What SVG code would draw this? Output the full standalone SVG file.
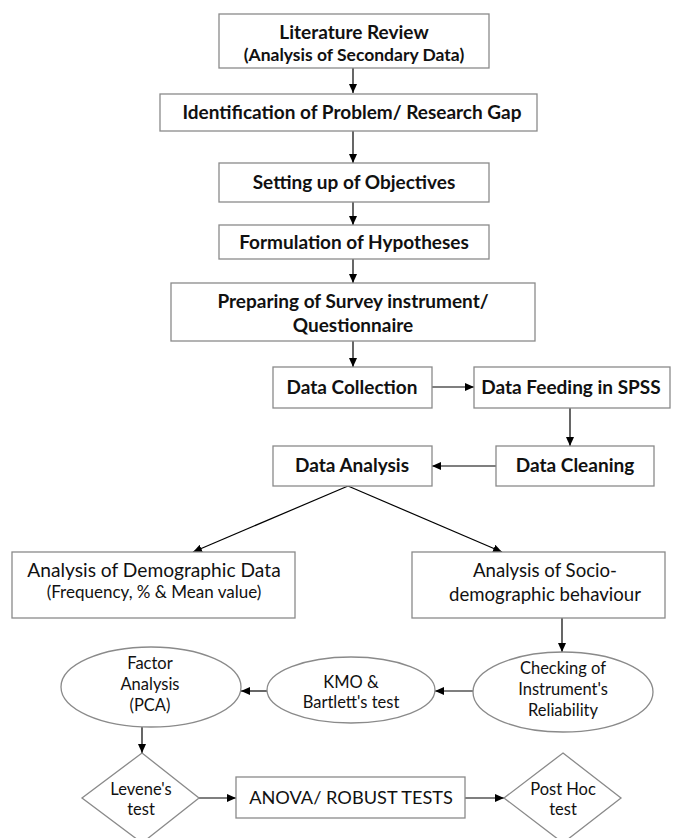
<svg xmlns="http://www.w3.org/2000/svg" width="675" height="838" viewBox="0 0 675 838">
<defs>
<marker id="ah" markerWidth="9" markerHeight="8" refX="9" refY="4" orient="auto" markerUnits="userSpaceOnUse">
<path d="M0,0 L9,4 L0,8 Z" fill="#000"/>
</marker>
<style>
.box{fill:#fff;stroke:#8a8a8a;stroke-width:1.3}
.t{font-family:Lato,"Liberation Sans",sans-serif;font-size:19px;fill:#111;text-anchor:middle}
.b{font-weight:bold}
.e{font-size:16.5px}
.c{stroke:#000;stroke-width:1.2;fill:none;marker-end:url(#ah)}
</style>
</defs>
<rect width="675" height="838" fill="#fff"/>
<g id="connectors">
<line class="c" x1="353" y1="68" x2="353" y2="93"/>
<line class="c" x1="353" y1="131" x2="353" y2="163"/>
<line class="c" x1="353" y1="202" x2="353" y2="225"/>
<line class="c" x1="353" y1="259" x2="353" y2="283"/>
<line class="c" x1="353" y1="341" x2="353" y2="367"/>
<line class="c" x1="432" y1="387" x2="474" y2="387"/>
<line class="c" x1="570" y1="408" x2="570" y2="446"/>
<line class="c" x1="496" y1="466" x2="432" y2="466"/>
<line class="c" x1="348" y1="486" x2="193" y2="552"/>
<line class="c" x1="348" y1="486" x2="502" y2="552"/>
<line class="c" x1="562" y1="618" x2="562" y2="652"/>
<line class="c" x1="473" y1="691" x2="435" y2="691"/>
<line class="c" x1="267" y1="691" x2="241" y2="691"/>
<line class="c" x1="142" y1="727" x2="142" y2="753"/>
<line class="c" x1="199" y1="798" x2="236" y2="798"/>
<line class="c" x1="465" y1="798" x2="504" y2="798"/>
</g>
<g id="literature">
<rect class="box" x="219" y="14" width="270" height="54"/>
<text class="t b" x="354" y="39">Literature Review</text>
<text class="t b" x="354" y="61" style="font-size:17.5px">(Analysis of Secondary Data)</text>
</g>
<g id="identification">
<rect class="box" x="160" y="94" width="377" height="37"/>
<text class="t b" x="352" y="119">Identification of Problem/ Research Gap</text>
</g>
<g id="objectives">
<rect class="box" x="219" y="163" width="270" height="39"/>
<text class="t b" x="354" y="189">Setting up of Objectives</text>
</g>
<g id="hypotheses">
<rect class="box" x="219" y="225" width="270" height="34"/>
<text class="t b" x="354" y="249">Formulation of Hypotheses</text>
</g>
<g id="survey">
<rect class="box" x="171" y="283" width="364" height="58"/>
<text class="t b" x="353" y="308">Preparing of Survey instrument/</text>
<text class="t b" x="353" y="332">Questionnaire</text>
</g>
<g id="collection">
<rect class="box" x="273" y="367" width="159" height="41"/>
<text class="t b" x="352" y="394">Data Collection</text>
</g>
<g id="feeding">
<rect class="box" x="474" y="367" width="196" height="41"/>
<text class="t b" x="571" y="394">Data Feeding in SPSS</text>
</g>
<g id="cleaning">
<rect class="box" x="496" y="446" width="158" height="40"/>
<text class="t b" x="575" y="472">Data Cleaning</text>
</g>
<g id="analysis">
<rect class="box" x="273" y="446" width="159" height="40"/>
<text class="t b" x="352" y="472">Data Analysis</text>
</g>
<g id="demographic">
<rect class="box" x="12" y="552" width="283" height="66"/>
<text class="t" x="154" y="577" style="font-size:19.2px">Analysis of Demographic Data</text>
<text class="t" x="154" y="598" style="font-size:17px">(Frequency, % &amp; Mean value)</text>
</g>
<g id="socio">
<rect class="box" x="412" y="552" width="253" height="66"/>
<text class="t" x="545" y="577" style="font-size:18.6px">Analysis of Socio-</text>
<text class="t" x="545" y="601" style="font-size:18.6px">demographic behaviour</text>
</g>
<g id="checking">
<ellipse class="box" cx="563" cy="692" rx="90" ry="40"/>
<text class="t e" x="563" y="674">Checking of</text>
<text class="t e" x="563" y="695">Instrument's</text>
<text class="t e" x="563" y="716">Reliability</text>
</g>
<g id="kmo">
<ellipse class="box" cx="351" cy="690" rx="84" ry="33"/>
<text class="t e" x="351" y="688">KMO &amp;</text>
<text class="t e" x="351" y="708">Bartlett's test</text>
</g>
<g id="factor">
<ellipse class="box" cx="151" cy="687" rx="90" ry="40"/>
<text class="t e" x="150" y="669">Factor</text>
<text class="t e" x="150" y="690">Analysis</text>
<text class="t e" x="150" y="711">(PCA)</text>
</g>
<g id="levene">
<polygon class="box" points="142,753 199,798 142,843 82,798"/>
<text class="t e" x="141" y="795">Levene's</text>
<text class="t e" x="141" y="815">test</text>
</g>
<g id="anova">
<rect class="box" x="236" y="777" width="229" height="41"/>
<text class="t" x="351" y="804" style="font-size:18.2px">ANOVA/ ROBUST TESTS</text>
</g>
<g id="posthoc">
<polygon class="box" points="563,753 621,798 563,843 504,798"/>
<text class="t e" x="563" y="795">Post Hoc</text>
<text class="t e" x="563" y="815">test</text>
</g>
</svg>
